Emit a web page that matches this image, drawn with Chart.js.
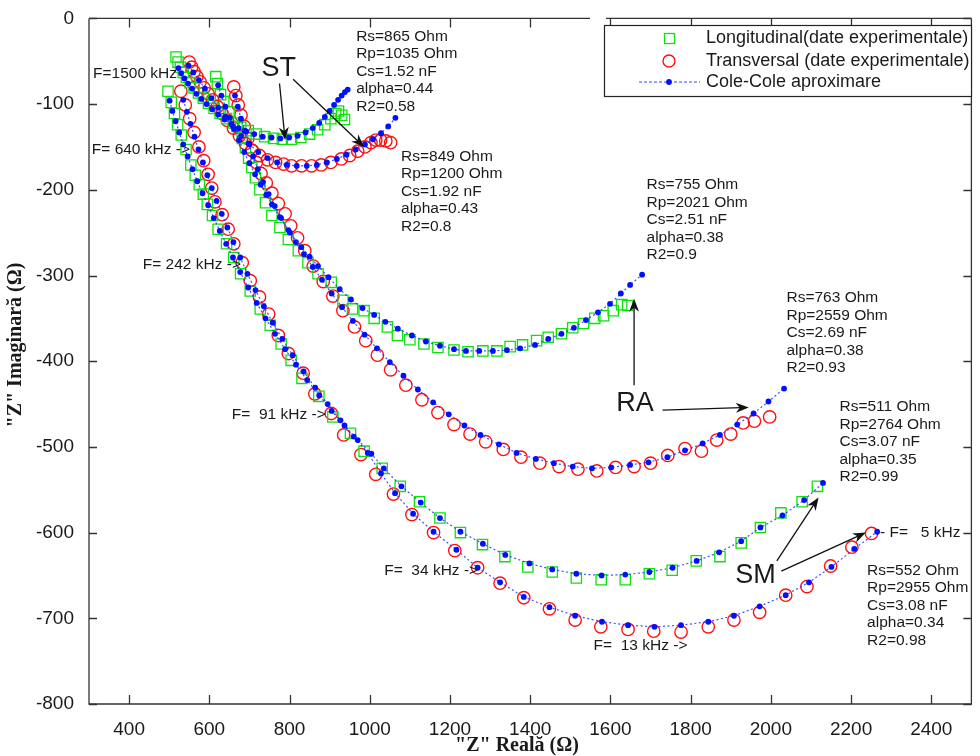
<!DOCTYPE html>
<html>
<head>
<meta charset="utf-8">
<script src="https://cdn.jsdelivr.net/npm/chart.js@4.4.1/dist/chart.umd.min.js"></script>
<style>
  html, body { margin: 0; padding: 0; background: #fff; }
  #wrap { width: 980px; height: 756px; position: relative; }
</style>
</head>
<body>
<div id="wrap"><canvas id="g-cole" width="980" height="756"></canvas></div>
<script>
/* Diagrama Cole-Cole: Z'' (imaginara) vs Z' (reala), trei probe ST / RA / SM */

const xTicks = [400, 600, 800, 1000, 1200, 1400, 1600, 1800, 2000, 2200, 2400];
const yTicks = [0, -100, -200, -300, -400, -500, -600, -700, -800];
const legendLabels = ["Longitudinal(date experimentale)", "Transversal (date experimentale)", "Cole-Cole aproximare"];

// ST
const stLongData = [[517,-45],[522,-51],[528,-57],[535,-63],[543,-69],[552,-75],[562,-81],[573,-87],[585,-93],[598,-99],[612,-105],[627,-111],[643,-117],[660,-122],[678,-127],[697,-131],[717,-135],[738,-138],[760,-140],[782,-141],[805,-141],[828,-139],[850,-135],[870,-130],[888,-124],[903,-117],[915,-111],[922,-108],[930,-113],[937,-118]];
const stLongFit = [[523,-58],[530,-64],[538,-70],[547,-76],[557,-82],[568,-88],[580,-94],[593,-100],[607,-106],[622,-112],[638,-118],[655,-123],[673,-128],[692,-132],[712,-135],[733,-138],[755,-139],[777,-140],[799,-139],[820,-137],[840,-133],[858,-128],[874,-122],[888,-115],[900,-108],[911,-101],[921,-95],[930,-90],[938,-86],[945,-83]];
const stTransData = [[550,-51],[556,-57],[562,-62],[569,-68],[577,-74],[587,-81],[597,-88],[608,-95],[620,-103],[632,-111],[645,-119],[660,-128],[675,-137],[690,-146],[707,-154],[725,-160],[745,-165],[765,-168],[785,-170],[805,-172],[830,-172],[855,-172],[879,-171],[903,-168],[929,-164],[950,-160],[970,-155],[988,-150],[1003,-145],[1015,-142],[1027,-142],[1040,-143],[1052,-145]];
const stTransFit = [[548,-55],[560,-63],[574,-72],[589,-82],[605,-93],[622,-104],[640,-115],[659,-126],[679,-137],[700,-147],[722,-156],[745,-163],[769,-168],[793,-171],[818,-172],[843,-172],[868,-171],[893,-168],[918,-164],[942,-159],[965,-153],[988,-147],[1008,-141],[1028,-134],[1046,-126],[1064,-116]];

// RA
const raLongData = [[616,-68],[620,-76],[628,-89],[636,-97],[649,-109],[669,-126],[682,-140],[690,-151],[698,-163],[706,-174],[715,-186],[726,-200],[740,-215],[756,-230],[776,-244],[797,-258],[822,-271],[846,-285],[871,-298],[904,-308],[933,-329],[957,-339],[986,-341],[1011,-350],[1044,-360],[1069,-370],[1100,-375],[1135,-380],[1170,-384],[1210,-387],[1245,-389],[1282,-388],[1317,-388],[1350,-383],[1381,-381],[1416,-376],[1445,-372],[1478,-368],[1506,-361],[1533,-356],[1561,-350],[1583,-347],[1607,-341],[1628,-334],[1643,-335]];
const raLongFit = [[622,-78],[630,-90],[640,-103],[651,-116],[662,-129],[674,-142],[687,-156],[700,-169],[714,-182],[728,-194],[742,-206],[756,-217],[776,-232],[801,-250],[829,-267],[850,-278],[871,-289],[897,-302],[925,-316],[953,-328],[982,-338],[1011,-346],[1039,-354],[1070,-362],[1105,-370],[1140,-377],[1175,-382],[1210,-386],[1240,-388],[1273,-388],[1307,-388],[1342,-387],[1375,-385],[1412,-381],[1445,-374],[1478,-368],[1509,-361],[1539,-352],[1569,-343],[1599,-333],[1626,-321],[1649,-311],[1679,-299]];
const raTransData = [[661,-80],[666,-90],[672,-101],[679,-113],[687,-126],[696,-140],[706,-154],[717,-168],[729,-181],[742,-192],[756,-204],[772,-216],[789,-228],[803,-242],[820,-256],[838,-271],[859,-289],[884,-307],[908,-324],[933,-341],[962,-360],[990,-376],[1019,-393],[1052,-410],[1090,-428],[1130,-445],[1170,-460],[1210,-474],[1250,-485],[1289,-494],[1333,-503],[1377,-512],[1424,-519],[1472,-523],[1519,-526],[1566,-528],[1613,-524],[1659,-523],[1700,-519],[1743,-510],[1786,-502],[1827,-505],[1865,-492],[1900,-485],[1931,-472],[1959,-470],[1997,-465]];
const raTransFit = [[664,-90],[671,-103],[679,-117],[688,-131],[698,-146],[709,-161],[721,-176],[734,-191],[748,-205],[763,-219],[779,-233],[797,-247],[816,-261],[836,-275],[858,-290],[881,-305],[905,-321],[931,-337],[958,-353],[987,-369],[1018,-385],[1050,-401],[1084,-417],[1120,-433],[1158,-448],[1197,-462],[1236,-475],[1276,-486],[1322,-497],[1366,-507],[1414,-514],[1459,-519],[1506,-523],[1554,-525],[1602,-524],[1649,-521],[1695,-518],[1742,-512],[1786,-504],[1830,-496],[1873,-486],[1916,-474],[1957,-461],[1994,-447],[2033,-432]];

// SM
const smLongData = [[497,-85],[505,-98],[513,-111],[521,-124],[530,-136],[542,-153],[554,-171],[565,-183],[575,-194],[585,-205],[595,-217],[608,-230],[622,-246],[643,-263],[661,-279],[678,-298],[702,-318],[727,-339],[752,-358],[779,-380],[804,-399],[831,-420],[873,-441],[908,-465],[952,-484],[986,-505],[1031,-525],[1076,-546],[1124,-564],[1175,-583],[1226,-600],[1281,-614],[1337,-628],[1394,-640],[1455,-646],[1515,-653],[1577,-655],[1637,-655],[1697,-648],[1754,-644],[1814,-633],[1873,-628],[1926,-612],[1974,-594],[2025,-577],[2078,-564],[2116,-546]];
const smLongFit = [[501,-96],[508,-108],[516,-120],[525,-133],[535,-147],[546,-161],[558,-176],[570,-190],[583,-204],[597,-218],[611,-233],[626,-248],[642,-263],[659,-279],[677,-296],[697,-314],[718,-332],[740,-350],[764,-368],[789,-386],[816,-404],[844,-422],[874,-440],[905,-458],[937,-475],[970,-492],[1004,-508],[1035,-525],[1079,-546],[1127,-565],[1175,-583],[1226,-599],[1282,-613],[1338,-626],[1398,-636],[1455,-643],[1515,-648],[1578,-650],[1637,-649],[1697,-646],[1755,-641],[1815,-633],[1871,-623],[1926,-610],[1974,-594],[2029,-580],[2083,-562],[2130,-542]];
const smTransData = [[529,-85],[540,-101],[551,-117],[562,-133],[574,-150],[586,-166],[597,-182],[606,-198],[614,-214],[632,-229],[647,-246],[661,-263],[682,-285],[702,-306],[725,-325],[748,-345],[772,-370],[797,-391],[834,-414],[863,-438],[904,-461],[935,-486],[978,-509],[1015,-532],[1059,-555],[1105,-579],[1159,-600],[1212,-621],[1269,-641],[1325,-659],[1384,-676],[1448,-689],[1512,-702],[1576,-710],[1644,-713],[1708,-715],[1776,-716],[1844,-710],[1908,-702],[1972,-693],[2037,-673],[2090,-663],[2149,-639],[2202,-617],[2251,-601]];
const smTransFit = [[535,-95],[544,-109],[553,-123],[563,-138],[573,-153],[584,-168],[595,-183],[606,-198],[618,-213],[631,-228],[645,-244],[660,-261],[677,-279],[695,-298],[715,-317],[736,-336],[758,-355],[782,-374],[808,-393],[835,-412],[864,-431],[895,-450],[927,-469],[960,-488],[995,-507],[1028,-531],[1063,-554],[1108,-578],[1159,-599],[1216,-620],[1269,-641],[1325,-658],[1384,-675],[1448,-687],[1512,-697],[1579,-704],[1644,-708],[1710,-710],[1776,-708],[1844,-704],[1908,-697],[1972,-686],[2037,-673],[2095,-658],[2151,-640],[2208,-619],[2265,-599]];

// parametrii Cole-Cole pentru fiecare curba
const parST_L = ["Rs=865 Ohm", "Rp=1035 Ohm", "Cs=1.52 nF", "alpha=0.44", "R2=0.58"];
const parST_T = ["Rs=849 Ohm", "Rp=1200 Ohm", "Cs=1.92 nF", "alpha=0.43", "R2=0.8"];
const parRA_L = ["Rs=755 Ohm", "Rp=2021 Ohm", "Cs=2.51 nF", "alpha=0.38", "R2=0.9"];
const parRA_T = ["Rs=763 Ohm", "Rp=2559 Ohm", "Cs=2.69 nF", "alpha=0.38", "R2=0.93"];
const parSM_L = ["Rs=511 Ohm", "Rp=2764 Ohm", "Cs=3.07 nF", "alpha=0.35", "R2=0.99"];
const parSM_T = ["Rs=552 Ohm", "Rp=2955 Ohm", "Cs=3.08 nF", "alpha=0.34", "R2=0.98"];
const freqLabels = ["F=1500 kHz", "F= 640 kHz ->", "F= 242 kHz ->", "F=  91 kHz ->", "F=  34 kHz ->", "F=  13 kHz ->", "- F=   5 kHz"];

var SANS = '"Liberation Sans", Arial, Helvetica, sans-serif';
var SERIF = '"Liberation Serif", "Times New Roman", serif';
var INK = "#1a1a1a";

function pts(a) { return a.map(function(p){ return { x: p[0], y: p[1] }; }); }

function fitSet(a) {
  return { data: pts(a), showLine: true, borderColor: "rgba(30,50,255,0.85)", borderWidth: 1.2, borderDash: [2, 2.5],
    pointRadius: 2.9, pointBackgroundColor: "#0010ff", pointBorderWidth: 0, order: 0, tension: 0 };
}
function longSet(a) {
  return { data: pts(a), showLine: false, pointStyle: "rect", pointRadius: 7.3, borderColor: "#10e010",
    backgroundColor: "rgba(0,0,0,0)", pointBorderWidth: 1.3, order: 1 };
}
function transSet(a) {
  return { data: pts(a), showLine: false, pointStyle: "circle", pointRadius: 6.2, borderColor: "#ff1010",
    backgroundColor: "rgba(0,0,0,0)", pointBorderWidth: 1.4, order: 1 };
}

function arrow(ctx, x1, y1, x2, y2) {
  var ang = Math.atan2(y2 - y1, x2 - x1), L = 13, W = 5;
  ctx.beginPath(); ctx.moveTo(x1, y1); ctx.lineTo(x2 - Math.cos(ang) * 8, y2 - Math.sin(ang) * 8); ctx.stroke();
  ctx.beginPath();
  ctx.moveTo(x2, y2);
  ctx.lineTo(x2 - L * Math.cos(ang) + W * Math.sin(ang), y2 - L * Math.sin(ang) - W * Math.cos(ang));
  ctx.lineTo(x2 - 0.7 * L * Math.cos(ang), y2 - 0.7 * L * Math.sin(ang));
  ctx.lineTo(x2 - L * Math.cos(ang) - W * Math.sin(ang), y2 - L * Math.sin(ang) + W * Math.cos(ang));
  ctx.closePath(); ctx.fill();
}

const decor = {
  id: "decor",
  afterDraw: function(chart) {
    var ctx = chart.ctx, a = chart.chartArea, xs = chart.scales.x, ys = chart.scales.y;
    function X(v) { return xs.getPixelForValue(v); }
    function Y(v) { return ys.getPixelForValue(v); }
    ctx.save();

    // cadru + gradatii interioare (stil MATLAB)
    ctx.strokeStyle = "#333"; ctx.lineWidth = 1.3;
    ctx.beginPath();
    ctx.moveTo(a.left, a.top); ctx.lineTo(590, a.top);
    ctx.moveTo(606, a.top); ctx.lineTo(a.right, a.top);
    ctx.moveTo(a.right, a.top); ctx.lineTo(a.right, a.bottom);
    ctx.lineTo(a.left, a.bottom); ctx.lineTo(a.left, a.top);
    ctx.stroke();
    ctx.beginPath();
    xTicks.forEach(function(v){
      var px = Math.round(X(v)) + 0.5;
      ctx.moveTo(px, a.bottom); ctx.lineTo(px, a.bottom - 9);
      ctx.moveTo(px, a.top); ctx.lineTo(px, a.top + 9);
    });
    yTicks.forEach(function(v){
      var py = Math.round(Y(v)) + 0.5;
      ctx.moveTo(a.left, py); ctx.lineTo(a.left + 8, py);
      ctx.moveTo(a.right, py); ctx.lineTo(a.right - 8, py);
    });
    ctx.stroke();

    // titluri axe
    ctx.fillStyle = INK;
    ctx.font = "bold 20px " + SERIF;
    ctx.textAlign = "center"; ctx.textBaseline = "middle";
    ctx.fillText("\"Z\" Real\u0103 (\u03A9)", 517, 746);
    ctx.save();
    ctx.translate(16, 345); ctx.rotate(-Math.PI / 2);
    ctx.fillText("\"Z\" Imaginar\u0103 (\u03A9)", 0, 0);
    ctx.restore();

    // etichete frecventa
    ctx.font = "15.5px " + SANS; ctx.textAlign = "left";
    var fpos = [[310,-65],[307,-153],[434,-287],[656,-462],[1036,-644],[1558,-732],[2272,-600]];
    freqLabels.forEach(function(t, i){ ctx.fillText(t, X(fpos[i][0]), Y(fpos[i][1])); });

    // blocuri de parametri
    var blocks = [[parST_L, 966, -21], [parST_T, 1078, -161], [parRA_L, 1690, -194],
                  [parRA_T, 2039, -326], [parSM_L, 2171, -453], [parSM_T, 2240, -644]];
    blocks.forEach(function(b){
      b[0].forEach(function(line, k){ ctx.fillText(line, X(b[1]), Y(b[2]) + k * 17.6); });
    });

    // ST / RA / SM + sageti
    ctx.font = "27px " + SANS; ctx.textAlign = "center";
    ctx.fillText("ST", X(773), Y(-58));
    ctx.fillText("RA", X(1661), Y(-449));
    ctx.fillText("SM", X(1962), Y(-650));
    ctx.strokeStyle = "#111"; ctx.fillStyle = "#111"; ctx.lineWidth = 1.3;
    arrow(ctx, X(775), Y(-76), X(789), Y(-142));
    arrow(ctx, X(809), Y(-71), X(986), Y(-150));
    arrow(ctx, X(1659), Y(-428), X(1659), Y(-327));
    arrow(ctx, X(1730), Y(-457), X(1945), Y(-454));
    arrow(ctx, X(2015), Y(-633), X(2119), Y(-559));
    arrow(ctx, X(2026), Y(-645), X(2237), Y(-600));

    // legenda
    var lx = 604, ly = 25, lw = 367, lh = 71;
    ctx.fillStyle = "#fff"; ctx.fillRect(lx, ly, lw, lh);
    ctx.strokeStyle = "#222"; ctx.lineWidth = 1.2; ctx.strokeRect(lx + 0.5, ly + 0.5, lw, lh);
    var rows = [38.5, 61, 82];
    ctx.strokeStyle = "#10e010"; ctx.lineWidth = 1.3; ctx.strokeRect(664.5, 33.5, 10, 10);
    ctx.strokeStyle = "#ff1010"; ctx.lineWidth = 1.4; ctx.beginPath(); ctx.arc(669, 61, 6, 0, 2 * Math.PI); ctx.stroke();
    ctx.strokeStyle = "rgba(30,50,255,0.9)"; ctx.lineWidth = 1.2; ctx.setLineDash([3, 2]);
    ctx.beginPath(); ctx.moveTo(639, 82); ctx.lineTo(700, 82); ctx.stroke(); ctx.setLineDash([]);
    ctx.fillStyle = "#0010ff"; ctx.beginPath(); ctx.arc(669, 82, 2.9, 0, 2 * Math.PI); ctx.fill();
    ctx.fillStyle = INK; ctx.font = "18px " + SANS; ctx.textAlign = "left";
    legendLabels.forEach(function(t, i){ ctx.fillText(t, 706, rows[i]); });

    ctx.restore();
  }
};

new Chart(document.getElementById("g-cole"), {
  type: "scatter",
  data: {
    datasets: [
      fitSet(stLongFit), fitSet(stTransFit), fitSet(raLongFit), fitSet(raTransFit), fitSet(smLongFit), fitSet(smTransFit),
      longSet(stLongData), transSet(stTransData), longSet(raLongData), transSet(raTransData), longSet(smLongData), transSet(smTransData)
    ]
  },
  options: {
    responsive: false, animation: false, devicePixelRatio: 1,
    layout: { padding: { left: 0, right: 1, top: 15, bottom: 0 } },
    plugins: { legend: { display: false }, tooltip: { enabled: false } },
    scales: {
      x: {
        type: "linear", min: 300, max: 2500,
        afterBuildTicks: function(s){ s.ticks = xTicks.map(function(v){ return { value: v }; }); },
        afterFit: function(s){ s.height = 52; },
        grid: { display: false }, border: { display: false },
        ticks: { color: INK, font: { family: SANS, size: 19 }, padding: 6, maxRotation: 0, autoSkip: false,
                 callback: function(v){ return String(v); } }
      },
      y: {
        type: "linear", min: -800, max: 0,
        afterBuildTicks: function(s){ s.ticks = yTicks.map(function(v){ return { value: v }; }); },
        afterFit: function(s){ s.width = 89; },
        grid: { display: false }, border: { display: false },
        ticks: { color: INK, font: { family: SANS, size: 19 }, padding: 7, autoSkip: false,
                 callback: function(v){ return String(v); } }
      }
    }
  },
  plugins: [decor]
});
</script>
</body>
</html>
